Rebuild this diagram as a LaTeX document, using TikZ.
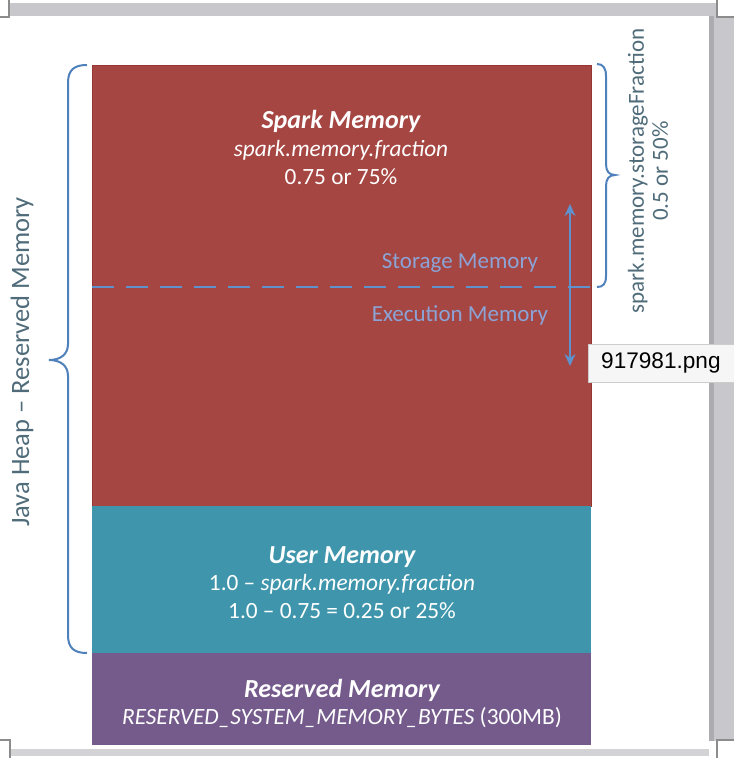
\documentclass[tikz,border=0pt]{standalone}
\usepackage{fontspec}
\setmainfont{Carlito}
\newfontfamily\tipfont{Liberation Sans}
\usetikzlibrary{arrows.meta}
\definecolor{sparkred}{RGB}{165,70,66}
\definecolor{sparkedge}{RGB}{150,55,52}
\definecolor{userteal}{RGB}{63,150,172}
\definecolor{respurple}{RGB}{116,91,140}
\definecolor{bracecol}{RGB}{79,129,189}
\definecolor{dashcol}{RGB}{95,145,205}
\definecolor{sidetext}{RGB}{80,108,122}
\definecolor{innertext}{RGB}{140,163,214}
\definecolor{framegray}{RGB}{200,200,204}
\definecolor{framedark}{RGB}{172,172,176}
\definecolor{cornergray}{RGB}{140,140,140}
\definecolor{tipfill}{RGB}{246,246,246}
\definecolor{tipedge}{RGB}{205,205,205}
\begin{document}
\begin{tikzpicture}[x=1bp,y=-1bp,
  block/.style={anchor=north west, inner sep=0pt, outer sep=0pt, minimum width=499bp},
  titletext/.style={text=white, anchor=base, inner sep=0pt, font=\fontsize{26bp}{29bp}\selectfont\bfseries\itshape},
  detailtext/.style={text=white, anchor=base, inner sep=0pt, font=\fontsize{23.3bp}{28bp}\selectfont},
  sidelabel/.style={text=sidetext, align=center, inner sep=0pt, rotate=90},
  innerlabel/.style={text=innertext, inner sep=0pt, font=\fontsize{23bp}{28bp}\selectfont},
  bracestyle/.style={draw=bracecol, line width=2bp},
  dividerline/.style={draw=dashcol, line width=2.8bp, dash pattern=on 22bp off 12bp},
  dblarrow/.style={draw=dashcol, line width=2.4bp, {Stealth[length=12bp,width=11bp]}-{Stealth[length=12bp,width=11bp]}},
  cornerline/.style={draw=cornergray, line width=1.2bp}
]
\useasboundingbox (0,0) rectangle (734,758);
\fill[white] (0,0) rectangle (734,758);

% screenshot frame
\fill[framegray] (9,3) rectangle (717,16);
\fill[framedark] (709,16) rectangle (714,741);
\fill[framegray] (714,16) rectangle (734,741);
\fill[framegray!80!white] (10,749) rectangle (709,756);
\coordinate (tl1) at (9,0); \coordinate (tl2) at (9,17); \coordinate (tl3) at (0,17);
\coordinate (tr1) at (717,0); \coordinate (tr2) at (717,17); \coordinate (tr3) at (734,17);
\coordinate (bl1) at (0,740); \coordinate (bl2) at (10,740); \coordinate (bl3) at (10,758);
\coordinate (br1) at (734,740); \coordinate (br2) at (717,740); \coordinate (br3) at (717,758);
\fill[white] (717,0) rectangle (734,17);
\fill[white] (717,740) rectangle (734,758);
\draw[cornerline] (tl1) -- (tl2) -- (tl3);
\draw[cornerline] (tr1) -- (tr2) -- (tr3);
\draw[cornerline] (bl1) -- (bl2) -- (bl3);
\draw[cornerline] (br1) -- (br2) -- (br3);

% memory blocks
\node[block, fill=sparkred, draw=sparkedge, line width=0.6bp, minimum height=441bp] (spark) at (92,65) {};
\node[block, fill=userteal, minimum height=147bp] (user) at (92,506) {};
\node[block, fill=respurple, minimum height=92bp] (reserved) at (92,653) {};

% block texts
\node[titletext] (sparktitle) at (341,128) {Spark Memory};
\node[detailtext] (sparkfrac) at (341,156) {\textit{spark.memory.fraction}};
\node[detailtext] (sparkval) at (341,184) {0.75 or 75\%};
\node[titletext] (usertitle) at (342,563) {User Memory};
\node[detailtext] (userfrac) at (342,590) {1.0 -- \textit{spark.memory.fraction}};
\node[detailtext] (userval) at (342,618) {1.0 -- 0.75 = 0.25 or 25\%};
\node[titletext] (restitle) at (342,697) {Reserved Memory};
\node[detailtext] (resval) at (342,724) {\textit{RESERVED\_SYSTEM\_MEMORY\_BYTES} (300MB)};

% storage / execution divider
\coordinate (dashL) at (92,287);
\coordinate (dashR) at (597,287);
\draw[dividerline] (dashL) -- (dashR);
\node[innerlabel] (storage) at (460,263) {Storage Memory};
\node[innerlabel] (execution) at (460,315) {Execution Memory};
\coordinate (arrTop) at (570,204);
\coordinate (arrBot) at (570,366);
\draw[dblarrow] (arrTop) -- (arrBot);

% left brace
\coordinate (lbTop) at (87,65);
\coordinate (lbTip) at (49,360);
\coordinate (lbBot) at (87,653);
\draw[bracestyle] (lbTop) .. controls (74,65) and (68,70) .. (68,83) -- (68,344)
  .. controls (68,354) and (61,360) .. (lbTip)
  .. controls (61,360) and (68,366) .. (68,376) -- (68,635)
  .. controls (68,648) and (74,653) .. (lbBot);
\node[sidelabel, font=\fontsize{26.5bp}{28bp}\selectfont] (heap) at (22,362) {Java Heap -- Reserved Memory};

% right brace
\coordinate (rbTop) at (597,64);
\coordinate (rbTip) at (615,175);
\coordinate (rbBot) at (597,287);
\draw[bracestyle] (rbTop) .. controls (603,64) and (606,68) .. (606,76) -- (606,164)
  .. controls (606,171) and (609,175) .. (rbTip)
  .. controls (609,175) and (606,179) .. (606,186) -- (606,276)
  .. controls (606,284) and (603,287) .. (rbBot);
\node[sidelabel, font=\fontsize{23bp}{24bp}\selectfont] (fraction) at (648,171) {spark.memory.storageFraction\\ 0.5 or 50\%};

% tooltip
\node[anchor=north west, fill=tipfill, draw=tipedge, line width=0.8bp, minimum width=150bp, minimum height=38bp, inner sep=0pt] (tip) at (588,344) {};
\node[anchor=west, inner sep=0pt, font=\tipfont\fontsize{22.6bp}{24bp}\selectfont] (tiptxt) at (601,363) {917981.png};
\end{tikzpicture}
\end{document}
